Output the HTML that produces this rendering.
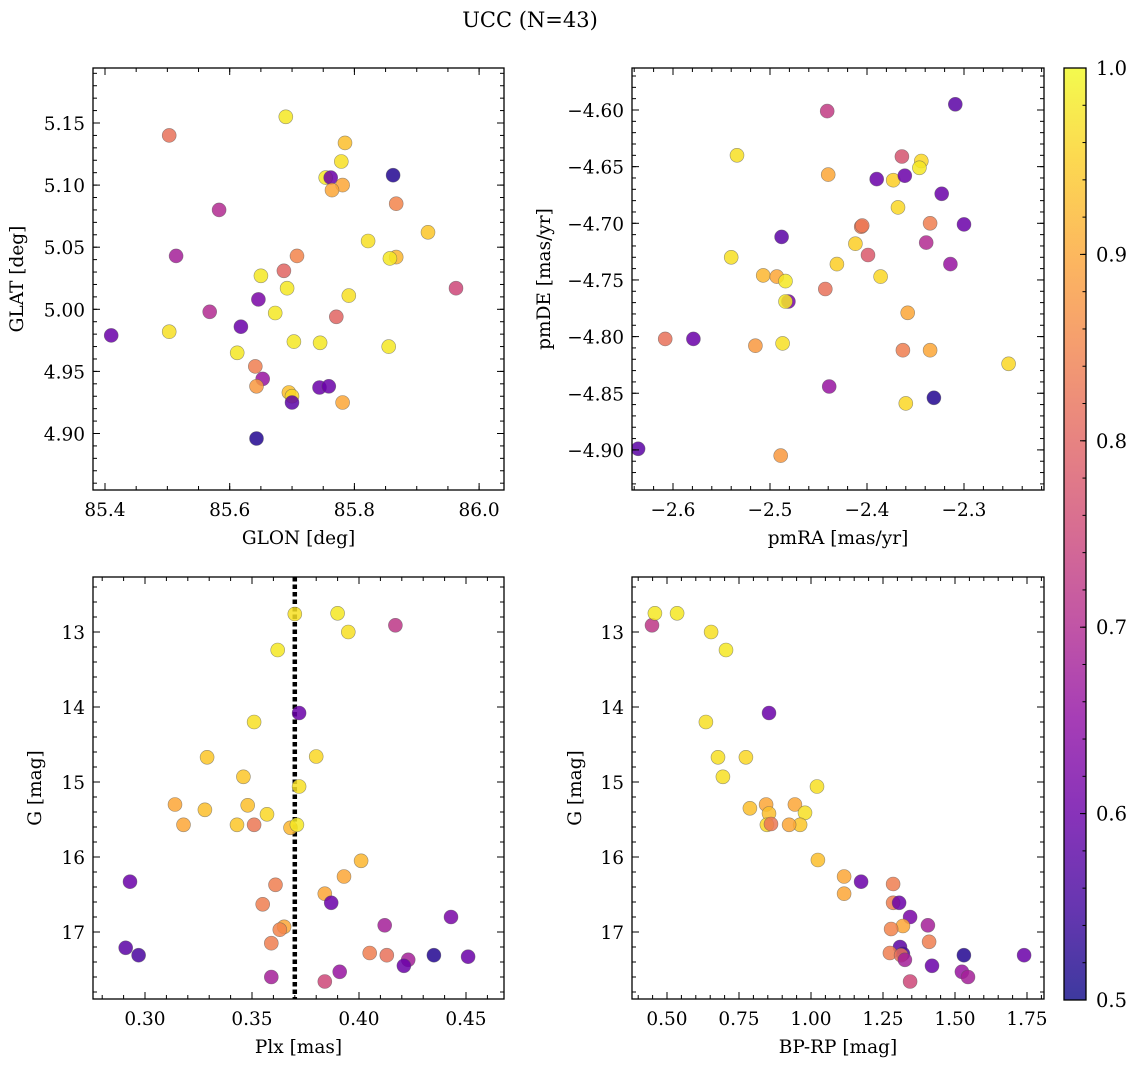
<!DOCTYPE html>
<html>
<head>
<meta charset="utf-8">
<style>
  html,body{margin:0;padding:0;background:#fff;}
  svg{display:block;}
  text{font-family:"DejaVu Serif","Liberation Serif",serif;fill:#000;}
</style>
</head>
<body>
<svg id="fig" width="1136" height="1067" viewBox="0 0 1136 1067" xmlns="http://www.w3.org/2000/svg">
  <defs>
    <linearGradient id="plasmaGrad" x1="0" y1="1" x2="0" y2="0">
      <stop offset="0" stop-color="#0d0887"/>
      <stop offset="0.1" stop-color="#41049d"/>
      <stop offset="0.2" stop-color="#6a00a8"/>
      <stop offset="0.3" stop-color="#8f0da4"/>
      <stop offset="0.4" stop-color="#b12a90"/>
      <stop offset="0.5" stop-color="#cc4778"/>
      <stop offset="0.6" stop-color="#e16462"/>
      <stop offset="0.7" stop-color="#f2844b"/>
      <stop offset="0.8" stop-color="#fca636"/>
      <stop offset="0.9" stop-color="#fcce25"/>
      <stop offset="1" stop-color="#f0f921"/>
    </linearGradient>
  </defs>
  <text x="530" y="27" font-size="21" text-anchor="middle">UCC (N=43)</text>
</svg>
<script>
// ---------- Panel 1: GLON / GLAT ----------
const glon = [85.503,85.690,85.785,85.779,85.754,85.762,85.862,85.781,85.764,85.867,85.583,85.918,85.822,85.514,85.708,85.867,85.857,85.963,85.650,85.687,85.692,85.646,85.791,85.568,85.673,85.771,85.618,85.410,85.503,85.703,85.745,85.855,85.612,85.641,85.653,85.643,85.744,85.759,85.695,85.700,85.700,85.781,85.643];
const glat = [5.140,5.155,5.134,5.119,5.106,5.106,5.108,5.100,5.096,5.085,5.080,5.062,5.055,5.043,5.043,5.042,5.041,5.017,5.027,5.031,5.017,5.008,5.011,4.998,4.997,4.994,4.986,4.979,4.982,4.974,4.973,4.970,4.965,4.954,4.944,4.938,4.937,4.938,4.933,4.930,4.925,4.925,4.896];
const prob1 = [0.82,0.98,0.93,0.97,0.98,0.6,0.52,0.9,0.9,0.85,0.7,0.94,0.97,0.68,0.85,0.92,0.98,0.75,0.98,0.8,0.98,0.62,0.97,0.7,0.98,0.8,0.6,0.6,0.97,0.98,0.98,0.98,0.98,0.84,0.66,0.88,0.6,0.6,0.93,0.96,0.58,0.9,0.52];
// ---------- Panel 2: pmRA / pmDE ----------
const pmra = [-2.441,-2.309,-2.534,-2.364,-2.344,-2.346,-2.373,-2.390,-2.361,-2.440,-2.323,-2.368,-2.335,-2.300,-2.406,-2.488,-2.412,-2.339,-2.399,-2.540,-2.314,-2.431,-2.507,-2.386,-2.493,-2.484,-2.443,-2.481,-2.484,-2.358,-2.608,-2.579,-2.487,-2.515,-2.363,-2.335,-2.254,-2.439,-2.331,-2.360,-2.636,-2.489,-2.405];
const pmde = [-4.601,-4.595,-4.640,-4.641,-4.645,-4.651,-4.662,-4.661,-4.658,-4.657,-4.674,-4.686,-4.700,-4.701,-4.703,-4.712,-4.718,-4.717,-4.728,-4.730,-4.736,-4.736,-4.746,-4.747,-4.747,-4.751,-4.758,-4.769,-4.769,-4.779,-4.802,-4.802,-4.806,-4.808,-4.812,-4.812,-4.824,-4.844,-4.854,-4.859,-4.899,-4.905,-4.702];
const prob2 = [0.73,0.58,0.97,0.77,0.96,0.98,0.95,0.6,0.6,0.9,0.6,0.96,0.84,0.6,0.83,0.58,0.95,0.7,0.78,0.97,0.66,0.95,0.92,0.96,0.9,0.98,0.82,0.62,0.98,0.9,0.82,0.6,0.97,0.88,0.84,0.9,0.96,0.66,0.52,0.96,0.58,0.88,0.83];
// ---------- Panel 3: Plx / G ----------
const plx = [0.370,0.390,0.417,0.395,0.362,0.372,0.351,0.329,0.380,0.346,0.372,0.314,0.328,0.348,0.357,0.318,0.343,0.351,0.368,0.371,0.401,0.293,0.393,0.361,0.384,0.355,0.387,0.443,0.412,0.365,0.363,0.359,0.291,0.297,0.405,0.413,0.435,0.451,0.423,0.421,0.391,0.359,0.384];
const gmag3 = [12.76,12.75,12.91,13.00,13.24,14.08,14.20,14.67,14.66,14.93,15.06,15.30,15.37,15.31,15.43,15.57,15.57,15.57,15.61,15.57,16.05,16.33,16.26,16.37,16.49,16.63,16.61,16.80,16.91,16.93,16.97,17.15,17.21,17.31,17.28,17.31,17.31,17.33,17.37,17.45,17.53,17.60,17.66];
const prob3 = [0.97,0.98,0.72,0.97,0.98,0.6,0.97,0.94,0.96,0.94,0.97,0.9,0.93,0.93,0.96,0.9,0.94,0.83,0.92,0.98,0.92,0.6,0.9,0.84,0.9,0.84,0.6,0.62,0.68,0.9,0.85,0.84,0.58,0.56,0.84,0.82,0.52,0.6,0.68,0.6,0.66,0.68,0.75];
const plxLine = 0.370;
// ---------- Panel 4: BP-RP / G ----------
const bprp = [0.448,0.458,0.535,0.653,0.705,0.854,0.635,0.677,0.774,0.694,1.021,0.788,0.944,0.979,0.844,0.854,0.962,0.847,0.861,0.924,1.024,1.174,1.115,1.285,1.115,1.285,1.306,1.344,1.406,1.319,1.278,1.410,1.309,1.319,1.274,1.313,1.531,1.740,1.326,1.420,1.524,1.545,1.344];
const gmag4 = [12.91,12.75,12.75,13.00,13.24,14.08,14.20,14.67,14.67,14.93,15.06,15.35,15.30,15.41,15.30,15.42,15.57,15.57,15.56,15.57,16.04,16.33,16.26,16.36,16.49,16.61,16.61,16.80,16.91,16.92,16.96,17.13,17.20,17.29,17.28,17.31,17.31,17.31,17.37,17.45,17.53,17.60,17.66];
const prob4 = [0.72,0.98,0.98,0.97,0.98,0.6,0.97,0.97,0.96,0.97,0.97,0.93,0.9,0.97,0.9,0.93,0.94,0.96,0.83,0.9,0.93,0.6,0.9,0.84,0.9,0.84,0.6,0.62,0.68,0.9,0.85,0.84,0.58,0.56,0.84,0.82,0.52,0.6,0.68,0.6,0.66,0.68,0.75];
// ---------- Tick labels ----------
const ticksX1 = [85.4,85.6,85.8,86.0];
const ticksY1 = [4.90,4.95,5.00,5.05,5.10,5.15];
const ticksX2 = [-2.6,-2.5,-2.4,-2.3];
const ticksY2 = [-4.90,-4.85,-4.80,-4.75,-4.70,-4.65,-4.60];
const ticksX3 = [0.30,0.35,0.40,0.45];
const ticksYG = [13,14,15,16,17];
const ticksX4 = [0.50,0.75,1.00,1.25,1.50,1.75];
const ticksCB = [0.5,0.6,0.7,0.8,0.9,1.0];

const NS = "http://www.w3.org/2000/svg";
const svg = document.getElementById('fig');
function mk(tag, attrs, parent){ const e=document.createElementNS(NS,tag); for(const k in attrs) e.setAttribute(k,attrs[k]); (parent||svg).appendChild(e); return e; }

const plasma = [[13,8,135],[65,4,157],[106,0,168],[143,13,164],[177,42,144],[204,71,120],[225,100,98],[242,132,75],[252,166,54],[252,206,37],[240,249,33]];
function cmap(p){
  let t=(p-0.5)/0.5; t=Math.max(0,Math.min(1,t));
  const f=t*10, i=Math.min(9,Math.floor(f)), r=f-i;
  const a=plasma[i], b=plasma[i+1];
  return 'rgb('+[0,1,2].map(k=>Math.round(a[k]+(b[k]-a[k])*r)).join(',')+')';
}
function fmt(v,d){ const s=Math.abs(v).toFixed(d); return (v<0?'\u2212':'')+s; }

const TICK_FS = 18.5, LABEL_FS = 18.5;

function panel(cfg){
  const g = mk('g',{});
  
  
  const {L,T,R,B} = cfg;
  const sx = cfg.sx, sy = cfg.sy;
  const cid = cfg.name+'-clip';
  const cp = mk('clipPath',{id:cid},g);
  mk('rect',{x:L,y:T,width:R-L,height:B-T},cp);
  const pts = mk('g',{'clip-path':'url(#'+cid+')'},g);
  
  
  if(cfg.extra) cfg.extra(pts);
  for(let i=0;i<cfg.xs.length;i++){
    const c = mk('circle',{cx:sx(cfg.xs[i]).toFixed(1),cy:sy(cfg.ys[i]).toFixed(1),r:7,fill:cmap(cfg.ps[i]),'fill-opacity':0.85,stroke:'#555','stroke-opacity':0.6,'stroke-width':0.6},pts);
    
    
  }
  const fr = mk('rect',{x:L,y:T,width:R-L,height:B-T,fill:'none',stroke:'#000','stroke-width':1.3},g);
  
  
  const tg = mk('g',{stroke:'#000','stroke-width':1},g);
  function xtick(v,len){ const x=sx(v); if(x<L+0.5||x>R-0.5) return; mk('line',{x1:x,y1:B,x2:x,y2:B-len},tg); mk('line',{x1:x,y1:T,x2:x,y2:T+len},tg); }
  function ytick(v,len){ const y=sy(v); if(y<T+0.5||y>B-0.5) return; mk('line',{x1:L,y1:y,x2:L+len,y2:y},tg); mk('line',{x1:R,y1:y,x2:R-len,y2:y},tg); }
  const xv0=cfg.xinv(L), xv1=cfg.xinv(R), xa=Math.min(xv0,xv1), xb=Math.max(xv0,xv1);
  for(let k=Math.ceil(xa/cfg.xminor-1e-6);k*cfg.xminor<=xb;k++) xtick(k*cfg.xminor,4);
  const yv0=cfg.yinv(T), yv1=cfg.yinv(B), ya=Math.min(yv0,yv1), yb=Math.max(yv0,yv1);
  for(let k=Math.ceil(ya/cfg.yminor-1e-6);k*cfg.yminor<=yb;k++) ytick(k*cfg.yminor,4);
  cfg.xt.forEach(v=>{
    xtick(v,7);
    const t = mk('text',{x:sx(v),y:B+26,'font-size':TICK_FS,'text-anchor':'middle'},g);
    t.textContent = fmt(v,cfg.xd);
    
    
  });
  cfg.yt.forEach(v=>{
    ytick(v,7);
    const t = mk('text',{x:L-8,y:sy(v)+7,'font-size':TICK_FS,'text-anchor':'end'},g);
    t.textContent = fmt(v,cfg.yd);
    
    
  });
  const xl = mk('text',{x:(L+R)/2,y:B+54,'font-size':LABEL_FS,'text-anchor':'middle'},g);
  xl.textContent = cfg.xlabel;
  
  
  const yl = mk('text',{x:0,y:0,'font-size':LABEL_FS,'text-anchor':'middle',transform:'translate('+cfg.ylx+','+((T+B)/2)+') rotate(-90)'},g);
  yl.textContent = cfg.ylabel;
  
  
}

panel({name:'glon-glat-panel',L:93,T:68,R:504,B:490,
  sx:v=>105+(v-85.4)*623.5, xinv:p=>85.4+(p-105)/623.5,
  sy:v=>123+(5.15-v)*1242, yinv:p=>5.15-(p-123)/1242,
  xminor:0.05, yminor:0.01, xt:ticksX1, yt:ticksY1, xd:1, yd:2,
  xs:glon, ys:glat, ps:prob1, xlabel:'GLON [deg]', ylabel:'GLAT [deg]', ylx:23});
panel({name:'pm-panel',L:632,T:68,R:1044,B:490,
  sx:v=>673+(v+2.6)*970, xinv:p=>-2.6+(p-673)/970,
  sy:v=>110+(-4.60-v)*1133, yinv:p=>-4.60-(p-110)/1133,
  xminor:0.02, yminor:0.01, xt:ticksX2, yt:ticksY2, xd:1, yd:2,
  xs:pmra, ys:pmde, ps:prob2, xlabel:'pmRA [mas/yr]', ylabel:'pmDE [mas/yr]', ylx:550});
panel({name:'plx-g-panel',L:93,T:577,R:504,B:999,
  sx:v=>145+(v-0.30)*2140, xinv:p=>0.30+(p-145)/2140,
  sy:v=>632+(v-13)*75, yinv:p=>13+(p-632)/75,
  xminor:0.01, yminor:0.2, xt:ticksX3, yt:ticksYG, xd:2, yd:0,
  xs:plx, ys:gmag3, ps:prob3, xlabel:'Plx [mas]', ylabel:'G [mag]', ylx:41,
  extra:(g)=>{ const x=145+(plxLine-0.30)*2140; const l=mk('line',{x1:x,y1:577,x2:x,y2:999,stroke:'#000','stroke-width':4.5,'stroke-dasharray':'4.5,3'},g);
    
     }});
panel({name:'cmd-panel',L:632,T:577,R:1044,B:999,
  sx:v=>667+(v-0.5)*288, xinv:p=>0.5+(p-667)/288,
  sy:v=>632+(v-13)*75, yinv:p=>13+(p-632)/75,
  xminor:0.05, yminor:0.2, xt:ticksX4, yt:ticksYG, xd:2, yd:0,
  xs:bprp, ys:gmag4, ps:prob4, xlabel:'BP-RP [mag]', ylabel:'G [mag]', ylx:581});

(function(){
  const L=1064,R=1086,T=68,B=1000;
  const cy=v=>T+(1.0-v)*(B-T)/0.5;
  const cb = mk('g',{});
  
  
  mk('rect',{x:L,y:T,width:R-L,height:B-T,fill:'url(#plasmaGrad)','fill-opacity':0.8},cb);
  mk('rect',{x:L,y:T,width:R-L,height:B-T,fill:'none',stroke:'#000','stroke-width':1.3},cb);
  for(let k=25;k<=50;k++){ const v=k*0.02; const y=cy(v); if(y<=T+0.5||y>=B-0.5) continue; mk('line',{x1:R,y1:y,x2:R-3.5,y2:y,stroke:'#000','stroke-width':1},cb); }
  ticksCB.forEach(v=>{
    const y=cy(v);
    mk('line',{x1:R,y1:y,x2:R-6,y2:y,stroke:'#000','stroke-width':1},cb);
    const t=mk('text',{x:R+10,y:y+7,'font-size':19.5},cb);
    t.textContent=v.toFixed(1);
    
    
  });
})();
</script>
</body>
</html>
